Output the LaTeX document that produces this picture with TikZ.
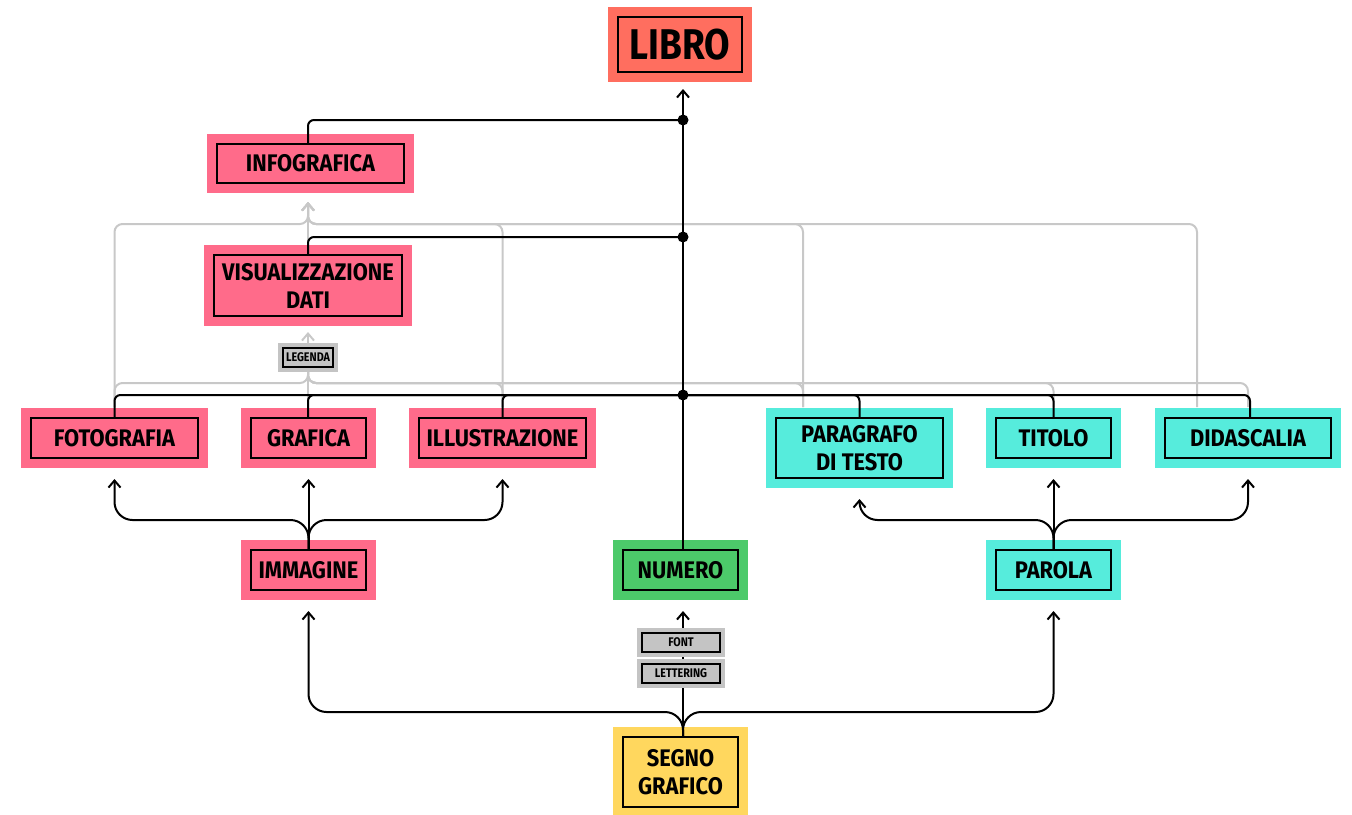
\documentclass[tikz,border=0pt]{standalone}
\usepackage{fontspec}
\setmainfont[FakeStretch=0.86]{Fira Sans}
\newfontfamily\labelfont[FakeStretch=0.91]{Fira Sans}
\usetikzlibrary{arrows.meta}
\pgfdeclarelayer{front}
\pgfsetlayers{main,front}
\definecolor{salmon}{HTML}{FF6E5F}
\definecolor{rose}{HTML}{FF6B8A}
\definecolor{aqua}{HTML}{56ECDC}
\definecolor{leaf}{HTML}{4CCA6A}
\definecolor{sun}{HTML}{FFD75E}
\definecolor{tagfill}{HTML}{C4C4C4}
\definecolor{faint}{HTML}{C8C8C8}
\begin{document}
\begin{tikzpicture}[x=1pt,y=-1pt,
  box/.style={fill=#1, draw=black, line width=2pt,
    preaction={draw=#1, line width=20pt},
    inner sep=0pt, align=center,
    font=\labelfont\bfseries\fontsize{24}{28}\selectfont},
  tagbox/.style={fill=tagfill, draw=black, line width=2pt,
    preaction={draw=tagfill, line width=10pt},
    inner sep=0pt, minimum height=19pt,
    font=\bfseries\fontsize{12.5}{14}\selectfont},
  wire/.style={draw=black, line width=2pt, rounded corners=6pt},
  faintwire/.style={draw=faint, line width=2pt, rounded corners=8pt},
  brace/.style={draw=black, line width=2pt, rounded corners=18pt},
  tip/.style={-{Straight Barb[length=7pt,width=12pt]}},
  dot/.style={fill=black}]
\useasboundingbox (0,0) rectangle (1352,814);

% ---- main boxes
\node[box=salmon, minimum width=124pt, minimum height=55pt,
      font=\bfseries\fontsize{43}{50}\selectfont] (libro) at (680,44.5) {LIBRO};
\node[box=rose, minimum width=187pt, minimum height=39pt] (info) at (310.5,163.5) {INFOGRAFICA};
\node[box=rose, minimum width=188pt, minimum height=61pt] (vis) at (308,285.5) {VISUALIZZAZIONE\\DATI};
\node[box=rose, minimum width=167pt, minimum height=40pt] (foto) at (114.5,438) {FOTOGRAFIA};
\node[box=rose, minimum width=115pt, minimum height=40pt] (graf) at (308.5,438) {GRAFICA};
\node[box=rose, minimum width=167pt, minimum height=40pt] (illu) at (502.5,438) {ILLUSTRAZIONE};
\node[box=aqua, minimum width=167pt, minimum height=60pt] (para) at (859.5,448) {PARAGRAFO\\DI TESTO};
\node[box=aqua, minimum width=115pt, minimum height=40pt] (tito) at (1053.5,438) {TITOLO};
\node[box=aqua, minimum width=166pt, minimum height=40pt] (dida) at (1248,438) {DIDASCALIA};
\node[box=rose, minimum width=115pt, minimum height=40pt] (imma) at (308.5,570) {IMMAGINE};
\node[box=leaf, minimum width=115pt, minimum height=40pt] (nume) at (680.5,570) {NUMERO};
\node[box=aqua, minimum width=115pt, minimum height=40pt] (paro) at (1053.5,570) {PAROLA};
\node[box=sun, minimum width=115pt, minimum height=70pt] (segno) at (680.5,772) {SEGNO\\GRAFICO};

% ---- small tags sitting on top of the lines
\begin{pgfonlayer}{front}
\node[tagbox, minimum width=50pt] (leg) at (308,357.5) {LEGENDA};
\node[tagbox, minimum width=78pt] (font) at (681,642.5) {FONT};
\node[tagbox, minimum width=78pt] (lett) at (681,673.5) {LETTERING};
\end{pgfonlayer}

% ---- routing coordinates
\coordinate (spine) at (683,0);
\coordinate (j1) at (683,120);
\coordinate (j2) at (683,237);
\coordinate (j3) at (683,395);
\coordinate (gi) at (308,224);
\coordinate (gl) at (308,383);
\coordinate (xp) at (803,0);
\coordinate (xd) at (1197,0);
\coordinate (bi) at (308,520);
\coordinate (bp) at (1053,520);
\coordinate (bs) at (683,712);

% ---- grey links towards INFOGRAFICA
\draw[faintwire, shorten <=10pt, shorten >=18pt, tip] (foto.north) |- (gi) -- (info.south -| gi);
\draw[faintwire, shorten <=10pt, shorten >=18pt, tip] (illu.north) |- (gi) -- (info.south -| gi);
\draw[faintwire, shorten <=10pt, shorten >=18pt, tip] (para.north -| xp) |- (gi) -- (info.south -| gi);
\draw[faintwire, shorten <=10pt, shorten >=18pt, tip] (dida.north -| xd) |- (gi) -- (info.south -| gi);
\draw[faintwire, shorten <=10pt, shorten >=18pt, tip] (vis.north -| gi) -- (info.south -| gi);

% ---- grey links towards LEGENDA and VISUALIZZAZIONE DATI
\draw[faintwire, shorten <=10pt] (foto.north) |- (gl) -- (leg.south);
\draw[faintwire, shorten <=10pt] (graf.north -| gl) -- (leg.south);
\draw[faintwire, shorten <=10pt] (illu.north) |- (gl) -- (leg.south);
\draw[faintwire, shorten <=10pt] (para.north -| xp) |- (gl) -- (leg.south);
\draw[faintwire, shorten <=10pt] (tito.north) |- (gl) -- (leg.south);
\draw[faintwire, shorten <=10pt] (dida.north) |- (gl) -- (leg.south);
\draw[faintwire, shorten >=15pt, tip] (leg.north) -- (leg.north |- vis.south);

% ---- black links towards LIBRO
\draw[wire, tip, shorten >=16pt] (nume.north -| spine) -- (libro.south -| spine);
\draw[wire] (info.north -| gi) |- (j1);
\draw[wire] (vis.north -| gi) |- (j2);
\draw[wire] (foto.north) |- (j3);
\draw[wire] (graf.north -| gl) |- (j3);
\draw[wire] (illu.north) |- (j3);
\draw[wire] (para.north) |- (j3);
\draw[wire] (tito.north) |- (j3);
\draw[wire] (dida.north) ++(2,0) |- (j3);
\fill[dot] (j1) circle (5.5pt);
\fill[dot] (j2) circle (5.5pt);
\fill[dot] (j3) circle (5.5pt);

% ---- IMMAGINE branches
\draw[brace, tip, shorten >=20pt] (imma.north) -- (imma.north |- bi) -| (foto.south);
\draw[brace, tip, shorten >=20pt] (imma.north) -- (imma.north |- bi) -| (illu.south);
\draw[wire, tip, shorten >=20pt] (imma.north) -- (graf.south);

% ---- PAROLA branches
\draw[brace, tip, shorten >=20pt] (paro.north) -- (paro.north |- bp) -| (para.south);
\draw[brace, tip, shorten >=20pt] (paro.north) -- (paro.north |- bp) -| (dida.south);
\draw[wire, tip, shorten >=20pt] (paro.north) -- (tito.south);

% ---- SEGNO GRAFICO branches
\draw[brace, tip, shorten >=20pt] (segno.north -| spine) -- (bs) -| (imma.south);
\draw[brace, tip, shorten >=20pt] (segno.north -| spine) -- (bs) -| (paro.south);
\draw[wire, tip, shorten >=20pt] (segno.north -| spine) -- (nume.south -| spine);
\end{tikzpicture}
\end{document}
